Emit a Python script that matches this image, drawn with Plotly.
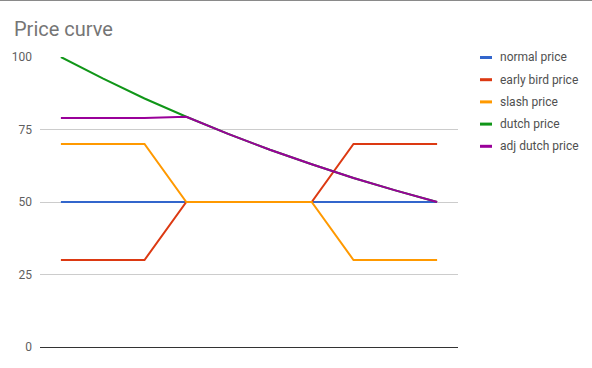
import plotly.graph_objects as go

periods = list(range(10))
normal_price = [50, 50, 50, 50, 50, 50, 50, 50, 50, 50]
early_bird_price = [30, 30, 30, 50, 50, 50, 50, 70, 70, 70]
slash_price = [70, 70, 70, 50, 50, 50, 50, 30, 30, 30]
dutch_price = [100, 92.6, 85.7, 79.4, 73.5, 68.0, 63.0, 58.3, 54.0, 50]
adj_dutch_price = [79, 79, 79, 79.4, 73.5, 68.0, 63.0, 58.3, 54.0, 50]

series_names = ["normal price", "early bird price", "slash price", "dutch price", "adj dutch price"]
series_values = [normal_price, early_bird_price, slash_price, dutch_price, adj_dutch_price]
colors = ["#3366cc", "#dc3912", "#ff9900", "#109618", "#990099"]
y_ticks = [0, 25, 50, 75, 100]

W, H = 592, 368
L, R, T, B = 40, 458, 57, 347

fig = go.Figure()
for name, vals, c in zip(series_names, series_values, colors):
    fig.add_trace(go.Scatter(x=periods, y=vals, mode="lines", name=name,
                             line=dict(color=c, width=2), showlegend=False,
                             hoverinfo="skip"))

def px_x(px):
    return (px - L) / (R - L)

def px_y(py):
    return (B - py) / (B - T)

shapes = [dict(type="line", xref="paper", yref="paper",
               x0=px_x(0), x1=px_x(W), y0=px_y(0.5), y1=px_y(0.5),
               line=dict(color="#8a8a8a", width=1))]
annotations = []
for i, (name, c) in enumerate(zip(series_names, colors)):
    cy = 57.5 + 22.2 * i
    shapes.append(dict(type="line", xref="paper", yref="paper",
                       x0=px_x(480), x1=px_x(492), y0=px_y(cy), y1=px_y(cy),
                       line=dict(color=c, width=3)))
    annotations.append(dict(xref="paper", yref="paper", x=px_x(498), y=px_y(cy),
                            text=name, showarrow=False, xanchor="left", yanchor="middle",
                            font=dict(family="Roboto", size=12, color="#505050")))

fig.update_layout(
    width=W, height=H,
    margin=dict(l=L, r=W - R, t=T, b=H - B, pad=0),
    paper_bgcolor="white", plot_bgcolor="white",
    title=dict(text="Price curve", x=14 / W, xanchor="left", y=1 - 29 / H, yanchor="middle",
               font=dict(family="Roboto", size=20, color="#757575")),
    xaxis=dict(range=[-0.5, 9.5], showgrid=False, zeroline=False, showticklabels=False,
               showline=False, fixedrange=True),
    yaxis=dict(range=[0, 100], tickvals=y_ticks, showgrid=True, gridcolor="#cccccc",
               gridwidth=1, zeroline=True, zerolinecolor="#333333", zerolinewidth=1,
               tickfont=dict(family="Roboto", size=12, color="#5f5f5f"),
               ticklabelstandoff=7, showline=False, fixedrange=True),
    shapes=shapes, annotations=annotations,
    font=dict(family="Roboto"),
)

fig.write_html("out.html")
